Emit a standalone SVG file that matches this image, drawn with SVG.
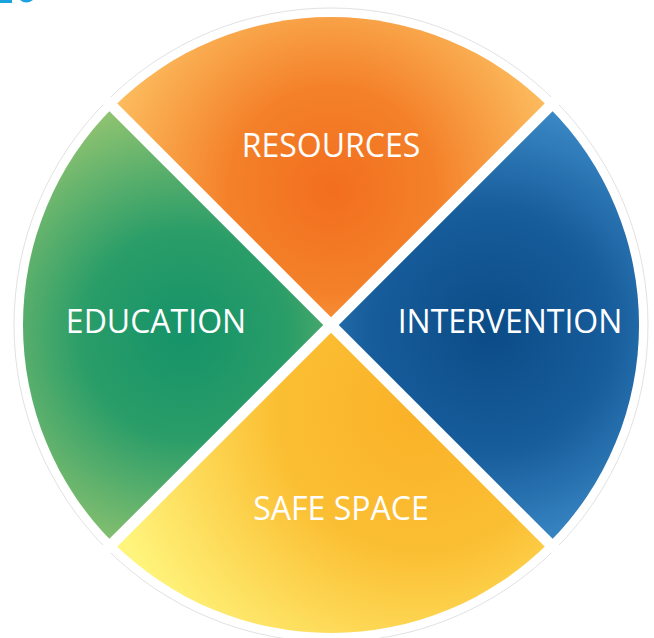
<svg xmlns="http://www.w3.org/2000/svg" width="654" height="638" viewBox="0 0 654 638">
<style>
.lbl{font-family:"Open Sans","Liberation Sans",sans-serif;font-size:32px;fill:#fff;text-anchor:middle}
.sep{stroke:#fff;stroke-width:11;stroke-linecap:butt}
</style>
<defs>
<radialGradient id="gO" gradientUnits="userSpaceOnUse" cx="332" cy="190" r="230">
<stop offset="0" stop-color="#F26E1E"/><stop offset="0.45" stop-color="#F4812A"/><stop offset="1" stop-color="#FCBC5E"/>
</radialGradient>
<radialGradient id="gB" gradientUnits="userSpaceOnUse" cx="490" cy="330" r="240">
<stop offset="0" stop-color="#0B4C87"/><stop offset="0.5" stop-color="#175C9B"/><stop offset="1" stop-color="#3F8ECB"/>
</radialGradient>
<radialGradient id="gY" gradientUnits="userSpaceOnUse" cx="420" cy="410" r="320">
<stop offset="0" stop-color="#FAB128"/><stop offset="0.45" stop-color="#FBBF33"/><stop offset="1" stop-color="#FFF47C"/>
</radialGradient>
<radialGradient id="gG" gradientUnits="userSpaceOnUse" cx="185" cy="335" r="230">
<stop offset="0" stop-color="#159369"/><stop offset="0.45" stop-color="#2A9D68"/><stop offset="1" stop-color="#8CC270"/>
</radialGradient>
</defs>
<rect width="654" height="638" fill="#fff"/>
<g id="logo-fragment" fill="#1BA3E0">
<rect x="0" y="0" width="12" height="3"/>
<path d="M20 0 Q26 5 33 0 Z"/>
</g>
<circle cx="331" cy="325" r="317" fill="none" stroke="#e2e2e2" stroke-width="1"/>
<g id="resources">
<path d="M331 325 L113.2 107.2 A308 308 0 0 1 548.8 107.2 Z" fill="url(#gO)"/>
<text class="lbl" x="331" y="157">RESOURCES</text>
</g>
<g id="intervention">
<path d="M331 325 L548.8 107.2 A308 308 0 0 1 548.8 542.8 Z" fill="url(#gB)"/>
<text class="lbl" x="510" y="333">INTERVENTION</text>
</g>
<g id="safe-space">
<path d="M331 325 L548.8 542.8 A308 308 0 0 1 113.2 542.8 Z" fill="url(#gY)"/>
<text class="lbl" x="341" y="520">SAFE SPACE</text>
</g>
<g id="education">
<path d="M331 325 L113.2 542.8 A308 308 0 0 1 113.2 107.2 Z" fill="url(#gG)"/>
<text class="lbl" x="156" y="333">EDUCATION</text>
</g>
<g id="connectors">
<line class="sep" x1="100" y1="94" x2="562" y2="556"/>
<line class="sep" x1="562" y1="94" x2="100" y2="556"/>
</g>
</svg>
